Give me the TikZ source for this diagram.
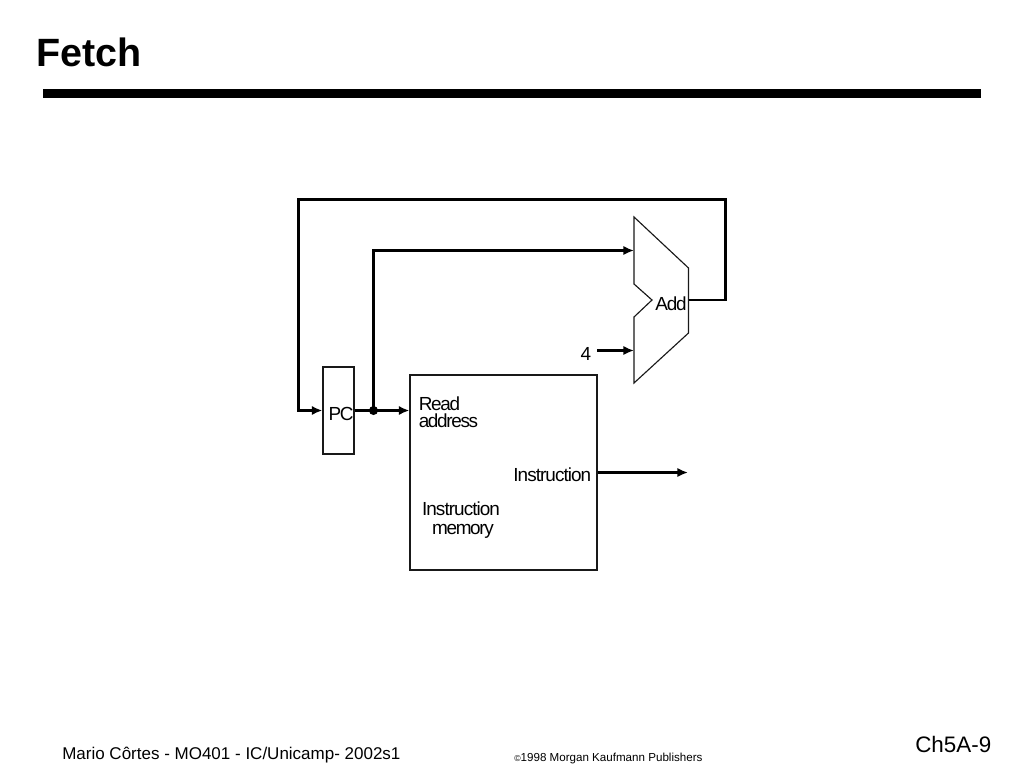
\documentclass[tikz,border=0pt]{standalone}
\usepackage{fontspec}
\setmainfont{Liberation Sans}
\usetikzlibrary{arrows.meta,calc}
\tikzset{
  px/.style={x=0.75pt,y=-0.75pt},
  boxed/.style={draw=black!90,line width=0.85pt,inner sep=0pt,rectangle},
  wire/.style={draw=black,line width=2.2pt},
  sig/.style={wire,-{Latex[length=8pt,width=7pt]}},
  lbl/.style={inner sep=0pt,font=\fontsize{14.2pt}{13pt}\selectfont\addfontfeatures{LetterSpace=-5},align=left},
  lbltight/.style={inner sep=0pt,font=\fontsize{14.2pt}{13pt}\selectfont\addfontfeatures{LetterSpace=-7},align=left},
  foot/.style={inner sep=0pt,anchor=base west}
}
\begin{document}
\begin{tikzpicture}[px]
\useasboundingbox (0,0) rectangle (1024,768);
\fill[white] (0,0) rectangle (1024,768);
% title
\node[foot,font=\fontsize{29.6pt}{32pt}\selectfont\bfseries] (title) at (36.5,66) {Fetch};
\coordinate (ruleL) at (43,93.5);
\coordinate (ruleR) at (981,93.5);
\draw[black,line width=6.6pt] (ruleL) -- (ruleR);
% blocks
\node[boxed,minimum width=23.25pt,minimum height=65.25pt] (pc) at (338.5,410.5) {};
\node[boxed,minimum width=140.25pt,minimum height=146.25pt] (mem) at (503.5,472.5) {};
\draw[boxed] (634,217) coordinate (addtop) -- (688.5,268) -- (688.5,300) coordinate (addout) -- (688.5,333) -- (634,383) -- (634,350.5) coordinate (addb) -- (634,317) -- (652,300) -- (634,284) -- (634,250.5) coordinate (adda) -- cycle;
% block labels
\node[lbltight,anchor=center] (pclbl) at (341,413.5) {PC};
\node[lbltight,anchor=center] (addlbl) at (671,303.5) {Add};
\node[lbltight,anchor=base west] (readlbl) at (418.5,410.5) {Read};
\node[lbltight,anchor=base west] (addrlbl) at (418.5,427.5) {address};
\node[lbl,anchor=base east] (instrlbl) at (591.5,481.5) {Instruction};
\node[lbl,anchor=base] (imem1) at (461,515.5) {Instruction};
\node[lbltight,anchor=base] (imem2) at (463,534) {memory};
\node[lbl,anchor=base] (four) at (586,360) {4};
% free ends
\coordinate (fb1) at (725.5,300);
\coordinate (fb2) at (725.5,199.5);
\coordinate (fb3) at (298.5,199.5);
\coordinate (instrEnd) at (688,472.5);
\coordinate (fourStart) at (597,350.5);
\coordinate (branch) at (373.5,410.5);
% wires
\draw[sig,line join=miter] (addout) -- (fb1) -- (fb2) -- (fb3) -- (fb3 |- pc.west) -- (pc.west);
\draw[sig] (pc.east) -- (mem.west |- pc.east);
\draw[sig] (branch) -- (branch |- adda) -- (adda);
\draw[sig] (fourStart) -- (addb);
\draw[sig] (mem.east) -- (instrEnd);
\fill[black] (branch) circle[radius=3.4pt];
% footer
\node[foot,font=\fontsize{12.75pt}{14pt}\selectfont] (author) at (62,759) {Mario Côrtes - MO401 - IC/Unicamp- 2002s1};
\node[foot,font=\fontsize{8.7pt}{10pt}\selectfont] (copy) at (514,761) {{\fontsize{6.5pt}{8pt}\selectfont ©}1998 Morgan Kaufmann Publishers};
\node[foot,font=\fontsize{16.8pt}{18pt}\selectfont] (page) at (915,752.5) {Ch5A-9};
\end{tikzpicture}
\end{document}
